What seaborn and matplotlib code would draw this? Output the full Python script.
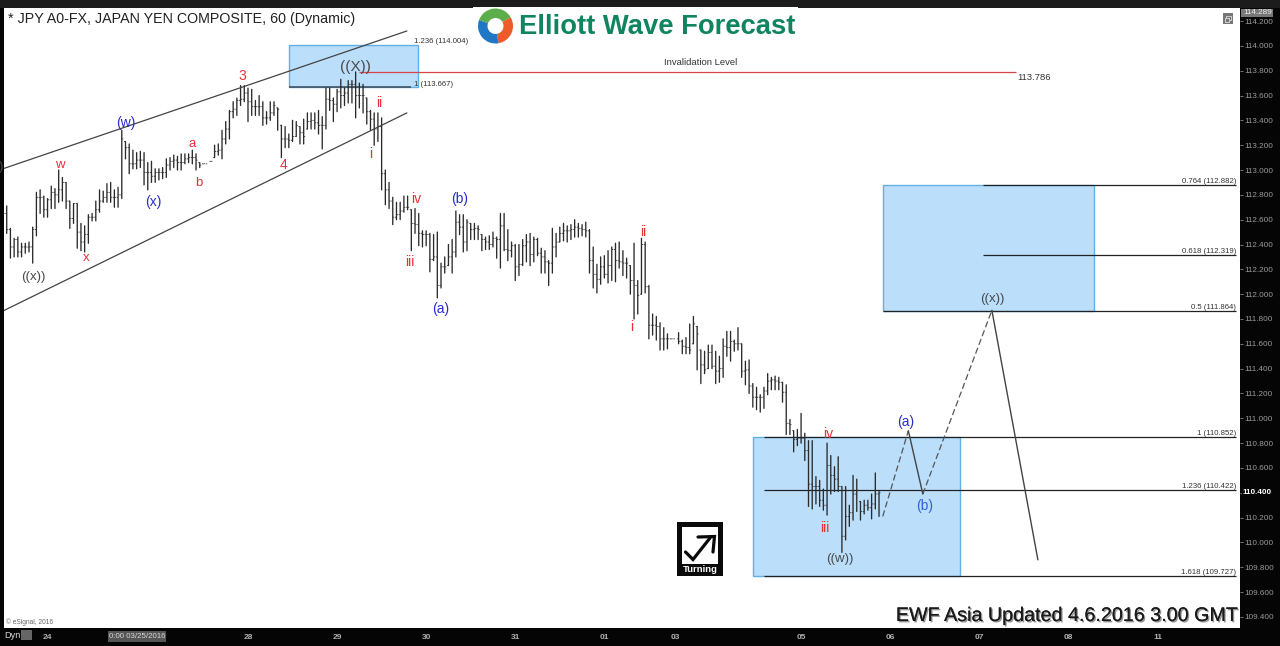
import numpy as np
import pandas as pd
import seaborn as sns
import matplotlib
matplotlib.use("Agg")
import matplotlib.pyplot as plt
import matplotlib.patheffects as pe
from matplotlib.patches import Rectangle, Wedge, Circle

nan = np.nan

# hourly bars
bar_high = [
    112.74, 112.71, 112.53, 112.45, 112.46, 112.41, 112.41, 112.42, 112.54, 112.82,
    112.84, 112.79, 112.77, 112.87, 112.85, 113.00, 112.94, 112.90, 112.75, 112.73,
    112.73, 112.57, 112.55, 112.64, 112.65, 112.75, 112.84, 112.83, 112.89, 112.90,
    112.84, 112.86, 113.32, 113.23, 113.21, 113.16, 113.14, 113.15, 113.14, 113.06,
    113.07, 113.01, 113.01, 113.02, 113.09, 113.10, 113.12, 113.11, 113.13, 113.13,
    113.13, 113.16, 113.13, 113.06, 113.05, nan, 113.07, 113.20, 113.21, 113.32,
    113.39, 113.48, 113.55, 113.58, 113.68, 113.68, 113.66, 113.65, 113.56, 113.60,
    113.55, 113.47, 113.55, 113.55, 113.50, 113.36, 113.35, 113.29, 113.40, 113.39,
    113.35, 113.41, 113.46, 113.46, 113.46, 113.48, 113.43, 113.66, 113.66, 113.58,
    113.65, 113.73, 113.66, 113.72, 113.72, 113.79, 113.70, 113.69, 113.58, 113.48,
    113.46, 113.46, 113.42, 113.00, 112.90, 112.78, 112.74, 112.74, 112.79, 112.79,
    112.68, 112.69, 112.65, 112.51, 112.51, 112.49, 112.48, 112.50, 112.25, 112.30,
    112.40, 112.44, 112.67, 112.64, 112.64, 112.60, 112.57, 112.57, 112.55, 112.48,
    112.46, 112.47, 112.50, 112.46, 112.65, 112.65, 112.52, 112.42, 112.40, 112.40,
    112.44, 112.48, 112.49, 112.46, 112.45, 112.37, 112.35, 112.27, 112.53, 112.49,
    112.54, 112.57, 112.55, 112.56, 112.60, 112.57, 112.56, 112.58, 112.52, 112.38,
    112.24, 112.30, 112.31, 112.35, 112.38, 112.41, 112.42, 112.35, 112.29, 112.23,
    112.41, 112.11, 112.45, 112.42, 112.07, 111.84, 111.82, 111.77, 111.73, 111.68,
    111.64, nan, 111.69, 111.63, 111.65, 111.76, 111.82, 111.74, 111.55, 111.54,
    111.59, 111.59, 111.54, 111.50, 111.64, 111.70, 111.70, 111.63, 111.73, 111.60,
    111.46, 111.47, 111.28, 111.25, 111.19, 111.25, 111.36, 111.33, 111.34, 111.33,
    111.29, 111.27, 110.99, 110.90, 110.91, 111.04, 110.88, 110.82, 110.82, 110.53,
    110.50, 110.43, 110.80, 110.70, 110.61, 110.69, 110.45, 110.45, 110.30, 110.54,
    110.51, 110.33, 110.34, 110.34, 110.39, 110.56, 110.41,
]
bar_low = [
    112.59, 112.49, 112.29, 112.30, 112.30, 112.30, 112.33, 112.34, 112.25, 112.47,
    112.65, 112.62, 112.62, 112.69, 112.69, 112.74, 112.75, 112.69, 112.53, 112.57,
    112.37, 112.35, 112.34, 112.41, 112.59, 112.59, 112.66, 112.74, 112.74, 112.74,
    112.70, 112.70, 112.77, 113.09, 112.97, 113.01, 113.01, 113.02, 112.88, 112.84,
    112.90, 112.90, 112.92, 112.93, 112.94, 113.00, 113.02, 113.00, 113.00, 113.05,
    113.06, 113.05, 113.00, 113.02, 113.05, nan, 113.07, 113.10, 113.12, 113.09,
    113.21, 113.25, 113.42, 113.44, 113.52, 113.55, 113.39, 113.44, 113.44, 113.44,
    113.36, 113.37, 113.40, 113.44, 113.32, 113.10, 113.18, 113.18, 113.23, 113.27,
    113.21, 113.21, 113.33, 113.33, 113.33, 113.29, 113.17, 113.33, 113.48, 113.39,
    113.47, 113.50, 113.52, 113.54, 113.54, 113.42, 113.50, 113.46, 113.37, 113.32,
    113.20, 113.23, 112.84, 112.72, 112.69, 112.56, 112.60, 112.60, 112.66, 112.68,
    112.35, 112.49, 112.39, 112.38, 112.39, 112.18, 112.27, 111.97, 112.05, 112.17,
    112.23, 112.17, 112.30, 112.48, 112.34, 112.35, 112.44, 112.44, 112.44, 112.35,
    112.36, 112.36, 112.38, 112.29, 112.21, 112.35, 112.27, 112.30, 112.11, 112.15,
    112.23, 112.26, 112.23, 112.26, 112.31, 112.17, 112.17, 112.07, 112.17, 112.30,
    112.42, 112.43, 112.42, 112.44, 112.46, 112.46, 112.47, 112.46, 112.17, 112.05,
    112.01, 112.08, 112.13, 112.09, 112.11, 112.10, 112.21, 112.15, 112.13, 112.00,
    111.80, 111.84, 112.00, 112.01, 111.64, 111.67, 111.63, 111.55, 111.55, 111.56,
    111.64, nan, 111.60, 111.52, 111.52, 111.52, 111.60, 111.39, 111.28, 111.36,
    111.40, 111.40, 111.28, 111.29, 111.33, 111.50, 111.46, 111.54, 111.55, 111.33,
    111.27, 111.20, 111.09, 111.07, 111.05, 111.08, 111.19, 111.23, 111.23, 111.23,
    111.13, 110.87, 110.87, 110.73, 110.78, 110.80, 110.66, 110.29, 110.27, 110.31,
    110.29, 110.26, 110.22, 110.39, 110.41, 110.41, 109.92, 110.02, 110.13, 110.18,
    110.25, 110.18, 110.23, 110.26, 110.19, 110.27, 110.21,
]
bar_close = [
    112.65, 112.52, 112.38, 112.44, 112.34, 112.38, 112.38, 112.38, 112.52, 112.78,
    112.78, 112.68, 112.76, 112.82, 112.80, 112.84, 112.90, 112.75, 112.61, 112.73,
    112.50, 112.42, 112.48, 112.62, 112.62, 112.68, 112.75, 112.78, 112.82, 112.78,
    112.78, 112.80, 113.25, 113.18, 113.05, 113.05, 113.08, 113.08, 112.98, 112.98,
    112.95, 112.98, 112.98, 112.98, 113.04, 113.07, 113.08, 113.06, 113.06, 113.09,
    113.10, 113.10, 113.08, 113.04, 113.05, nan, 113.07, 113.15, 113.16, 113.25,
    113.33, 113.47, 113.49, 113.56, 113.57, 113.62, 113.55, 113.51, 113.51, 113.51,
    113.42, 113.42, 113.46, 113.52, 113.49, 113.25, 113.25, 113.24, 113.27, 113.36,
    113.30, 113.27, 113.39, 113.40, 113.38, 113.36, 113.36, 113.57, 113.56, 113.53,
    113.63, 113.60, 113.62, 113.69, 113.69, 113.60, 113.60, 113.60, 113.47, 113.41,
    113.33, 113.35, 112.97, 112.84, 112.75, 112.62, 112.64, 112.67, 112.70, 112.70,
    112.57, 112.56, 112.49, 112.48, 112.48, 112.28, 112.30, 112.07, 112.22, 112.22,
    112.30, 112.34, 112.58, 112.54, 112.42, 112.58, 112.52, 112.53, 112.52, 112.44,
    112.42, 112.40, 112.45, 112.44, 112.55, 112.36, 112.35, 112.39, 112.22, 112.24,
    112.39, 112.42, 112.32, 112.44, 112.33, 112.30, 112.26, 112.25, 112.38, 112.42,
    112.49, 112.51, 112.51, 112.52, 112.54, 112.53, 112.52, 112.51, 112.27, 112.16,
    112.12, 112.22, 112.16, 112.23, 112.36, 112.27, 112.26, 112.25, 112.25, 112.11,
    112.07, 111.99, 112.40, 112.06, 111.75, 111.75, 111.74, 111.64, 111.64, 111.64,
    111.64, nan, 111.62, 111.58, 111.57, 111.55, 111.76, 111.68, 111.43, 111.39,
    111.53, 111.42, 111.38, 111.40, 111.58, 111.57, 111.62, 111.60, 111.60, 111.38,
    111.39, 111.26, 111.17, 111.17, 111.17, 111.22, 111.30, 111.31, 111.30, 111.29,
    111.21, 110.96, 110.95, 110.83, 110.84, 110.84, 110.74, 110.47, 110.45, 110.45,
    110.34, 110.30, 110.62, 110.54, 110.51, 110.45, 110.05, 110.21, 110.24, 110.39,
    110.42, 110.25, 110.30, 110.28, 110.31, 110.39, 110.40,
]

# axis ticks, x in bar numbers
day_bars = [12, 66, 90, 114, 138, 162, 181, 215, 239, 263, 287, 311]
day_labels = ["24", "28", "29", "30", "31", "01", "03", "05", "06", "07", "08", "11"]
price_ticks = [round(114.2 - 0.2 * k, 1) for k in range(25)]

# channel and forecast path
upper_x = [-1, 108.8]
upper_y = [113.0, 114.12]
lower_x = [-1, 108.8]
lower_y = [111.85, 113.46]
path_x = [237, 243.9, 247.8, 266.4, 278.8]
path_y = [110.21, 110.90, 110.39, 111.87, 109.86]
invalidation = 113.786

# target boxes: first bar, last bar, top, bottom
boxes = [
    (77.0, 111.8, 114.004, 113.667),
    (237.1, 293.9, 112.882, 111.864),
    (202.0, 257.9, 110.852, 109.727),
]
# fib levels: first bar, last bar, price, text
fibs = [
    (264, 332.2, 112.882, "0.764 (112.882)"),
    (264, 332.2, 112.319, "0.618 (112.319)"),
    (237, 332.2, 111.864, "0.5 (111.864)"),
    (205, 332.2, 110.852, "1 (110.852)"),
    (205, 332.2, 110.422, "1.236 (110.422)"),
    (205, 332.2, 109.727, "1.618 (109.727)"),
]

RED = "#e8303a"
BLUE = "#2a2ccf"
DARK = "#4a4a4a"
# wave labels in picture pixels
wave_labels = [
    ("((x))", 33, 277, DARK, 9.5), (")", 1, 167, DARK, 9.5), ("w", 60, 165, RED, 9.5), ("x", 86, 258, RED, 9.5),
    ("(w)", 126, 123, BLUE, 10), ("(x)", 153, 202, BLUE, 10), ("a", 192, 144, RED, 9.5), ("b", 199, 183, RED, 9.5),
    ("3", 242, 76, RED, 10), ("4", 283, 165, RED, 10), ("((X))", 355, 67, DARK, 11), ("i", 371, 154, RED, 10),
    ("ii", 379, 103, RED, 10), ("iii", 410, 262, RED, 10), ("iv", 416, 199, RED, 10), ("(a)", 441, 309, BLUE, 10),
    ("(b)", 460, 199, BLUE, 10), ("i", 632, 327, RED, 10), ("ii", 643, 232, RED, 10), ("iv", 828, 434, RED, 10),
    ("iii", 825, 528, RED, 10), ("((w))", 840, 559, DARK, 9.5), ("(a)", 906, 422, BLUE, 10),
    ("(b)", 925, 506, "#2f5fd8", 10), ("((x))", 992, 299, DARK, 9.5),
]

W, H = 1280, 646

sns.set_theme(style="white")
plt.rcParams["font.family"] = ["Liberation Sans", "DejaVu Sans"]

bars = pd.DataFrame({"high": bar_high, "low": bar_low, "close": bar_close})
bars["bar"] = bars.index
bars["open"] = bars["close"].shift(1).ffill().fillna(bars["close"])
bars["open"] = bars["open"].clip(bars["low"], bars["high"])
bars_long = bars.dropna().melt(id_vars="bar", value_vars=["high", "low"], value_name="price")

fig = plt.figure(figsize=(W / 100, H / 100), dpi=100, facecolor="#050505")
ax = fig.add_axes([4 / W, 1 - 628 / H, (1240 - 4) / W, (628 - 8) / H], facecolor="white")
ax.set_xlim((4 - 3) / 3.712, (1240 - 3) / 3.712)
ax.set_ylim(109.311, 114.305)

for first, last, top, bottom in boxes:
    ax.add_patch(Rectangle((first, bottom), last - first, top - bottom, fc="#bbdefb", ec="#62aee6", lw=1, zorder=1))

ax.hlines(113.667, 77, 110, color="#3c4a55", lw=1.1, zorder=2)
for first, last, level, text in fibs:
    ax.hlines(level, first, last, color="#222222", lw=0.9, zorder=2)
ax.hlines(invalidation, 96, 273, color="#d9444a", lw=0.9, zorder=2)

# bars are left unsnapped on purpose, that gives the grey / black mix
sns.lineplot(data=bars_long, x="bar", y="price", units="bar", estimator=None, color="#2a2a2a",
             lw=0.95, ax=ax, legend=False, zorder=3)
for bar_line in ax.lines:
    bar_line.set_snap(False)
close_ticks = ax.hlines(bars["close"], bars["bar"], bars["bar"] + 0.4, color="#333333", lw=0.6, zorder=3)
open_ticks = ax.hlines(bars["open"], bars["bar"] - 0.4, bars["bar"], color="#333333", lw=0.6, zorder=3)
close_ticks.set_snap(False)
open_ticks.set_snap(False)

sns.lineplot(x=upper_x, y=upper_y, color="#444444", lw=0.9, ax=ax, zorder=4)
sns.lineplot(x=lower_x, y=lower_y, color="#444444", lw=0.9, ax=ax, zorder=4)
for a, b in [(0, 1), (2, 3)]:
    sns.lineplot(x=path_x[a:b + 1], y=path_y[a:b + 1], color="#555555", lw=0.9, ax=ax, zorder=4,
                 linestyle=(0, (5, 2.5)))
for a, b in [(1, 2), (3, 4)]:
    sns.lineplot(x=path_x[a:b + 1], y=path_y[a:b + 1], color="#444444", lw=1.0, ax=ax, zorder=4)

ax.set_xlabel("")
ax.set_ylabel("")
for side in ax.spines.values():
    side.set_visible(False)
ax.set_xticks(day_bars, day_labels)
ax.yaxis.tick_right()
ax.set_yticks(price_ticks, [f"{p:.3f}" for p in price_ticks])
ax.tick_params(axis="x", length=2, width=0.6, color="#888888", labelcolor="#b0b0b0", labelsize=6, pad=2)
ax.tick_params(axis="y", length=2, width=0.6, color="#888888", labelcolor="#9a9a9a", labelsize=5.9, pad=1)
for label in ax.get_xticklabels():
    label.set_fontweight("bold")

# overlay in picture pixels for the texts and the stamps
ov = fig.add_axes([0, 0, 1, 1], facecolor="none", zorder=5)
ov.set_xlim(0, W)
ov.set_ylim(H, 0)
ov.axis("off")

ov.add_patch(Rectangle((0, 0), W, 8, fc="#1c1c1c", ec="none"))
ov.add_patch(Rectangle((473, 7), 325, 39, fc="white", ec="none"))

ov.text(8, 19.5, "* JPY A0-FX, JAPAN YEN COMPOSITE, 60 (Dynamic)", fontsize=10.3, color="#222222", va="center")

# logo
ov.add_patch(Wedge((495.5, 26), 17.5, 200, 330, width=9.5, fc="#5cae4a", ec="none"))
ov.add_patch(Wedge((495.5, 26), 17.5, 330, 80, width=9.5, fc="#ee5b2b", ec="none"))
ov.add_patch(Wedge((495.5, 26), 17.5, 80, 200, width=9.5, fc="#2277c4", ec="none"))
ov.text(519, 27.5, "Elliott Wave Forecast", fontsize=19.7, fontweight="bold", color="#0f8460", va="center")

# top right window icon
ov.add_patch(Rectangle((1223, 13), 10, 11, fc="#777777", ec="none"))
ov.add_patch(Rectangle((1226, 15.5), 5, 4, fc="none", ec="#dddddd", lw=0.6))
ov.add_patch(Rectangle((1224.5, 18), 4, 4, fc="#777777", ec="#dddddd", lw=0.6))

for text, x, y, color, size in wave_labels:
    ov.text(x, y, text, color=color, fontsize=size, ha="center", va="center")

for first, last, level, text in fibs:
    y = 21 + (114.2 - level) * 124.17
    ov.text(1236, y - 3.5, text, fontsize=5.6, color="#333333", ha="right", va="center")
ov.text(414, 41.5, "1.236 (114.004)", fontsize=5.6, color="#333333", va="center")
ov.text(414, 84, "1 (113.667)", fontsize=5.6, color="#333333", va="center")
ov.text(701, 62.5, "Invalidation Level", fontsize=6.8, color="#333333", ha="center", va="center")
ov.text(1017, 77, "113.786", fontsize=6.8, color="#333333", va="center")

# price tags on the right scale
ov.add_patch(Rectangle((1241, 8.5), 32, 8, fc="#777777", ec="none"))
ov.text(1243, 12.5, "114.289", fontsize=5.9, color="#eeeeee", va="center")
ov.add_patch(Rectangle((1242, 488), 36, 10, fc="#050505", ec="none"))
ov.text(1243, 493, "110.400", fontsize=5.9, color="white", fontweight="bold", va="center")

# bottom strip
ov.text(4, 635, "Dyn", fontsize=6.6, color="#d8d8d8", va="center")
ov.add_patch(Rectangle((21, 630), 11, 10, fc="#666666", ec="none"))
ov.add_patch(Rectangle((108, 631), 58, 11, fc="#555555", ec="none"))
ov.text(137, 636.5, "0:00 03/25/2016", fontsize=5.7, color="#d8d8d8", ha="center", va="center")
ov.text(6, 622, "© eSignal, 2016", fontsize=4.8, color="#666666", va="center")

ov.text(1239, 615.5, "EWF Asia Updated 4.6.2016 3.00 GMT", fontsize=14.2, color="#1a1a1a", ha="right", va="center",
        path_effects=[pe.withSimplePatchShadow(offset=(1, -1), shadow_rgbFace="#888888", alpha=0.9), pe.Normal()])

# Turning stamp
ov.add_patch(Rectangle((677, 522), 46, 54, fc="#0a0a0a", ec="none"))
ov.add_patch(Rectangle((682, 527), 36, 37, fc="white", ec="none"))
ov.plot([685.5, 693, 710], [552, 559.5, 538], color="#0a0a0a", lw=2.3, solid_joinstyle="miter")
ov.plot([698, 714.5, 713], [537, 536.5, 552], color="#0a0a0a", lw=2.3, solid_joinstyle="miter")
ov.text(700, 570, "Turning", fontsize=6.8, fontweight="bold", color="white", ha="center", va="center")

fig.savefig("out.png", dpi=100, facecolor=fig.get_facecolor())
